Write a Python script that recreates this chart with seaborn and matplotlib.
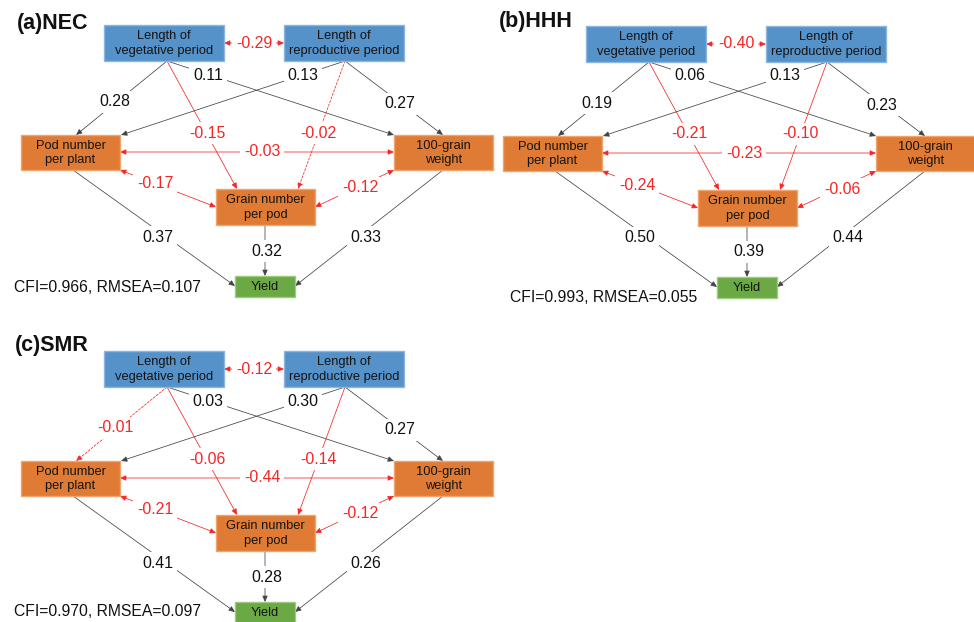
import matplotlib
matplotlib.use("Agg")
import matplotlib.pyplot as plt
from matplotlib.patches import Rectangle, FancyArrowPatch
import seaborn as sns

# ---- path-model results for the three regions ----
regions = ["(a)NEC", "(b)HHH", "(c)SMR"]
cfi = [0.966, 0.993, 0.970]
rmsea = [0.107, 0.055, 0.097]

# node labels
node_names = ["veg", "rep", "pod", "hgw", "gnp", "yld"]
node_labels = ["Length of\nvegetative period", "Length of\nreproductive period",
               "Pod number\nper plant", "100-grain\nweight",
               "Grain number\nper pod", "Yield"]
node_kind = ["period", "period", "trait", "trait", "trait", "yield"]

# paths: (source, target, two-headed?)
paths = [("veg", "pod", False), ("veg", "hgw", False), ("veg", "gnp", False),
         ("rep", "pod", False), ("rep", "hgw", False), ("rep", "gnp", False),
         ("veg", "rep", True), ("pod", "hgw", True), ("pod", "gnp", True),
         ("hgw", "gnp", True), ("pod", "yld", False), ("gnp", "yld", False),
         ("hgw", "yld", False)]

# standardized coefficients, same order as `paths`
coef_nec = [0.28, 0.11, -0.15, 0.13, 0.27, -0.02, -0.29, -0.03, -0.17, -0.12, 0.37, 0.32, 0.33]
coef_hhh = [0.19, 0.06, -0.21, 0.13, 0.23, -0.10, -0.40, -0.23, -0.24, -0.06, 0.50, 0.39, 0.44]
coef_smr = [-0.01, 0.03, -0.06, 0.30, 0.27, -0.14, -0.12, -0.44, -0.21, -0.12, 0.41, 0.28, 0.26]
coefs = [coef_nec, coef_hhh, coef_smr]

# non-significant paths (drawn dashed), index into `paths`
nonsig_nec = [5]
nonsig_hhh = []
nonsig_smr = [0]
nonsig = [nonsig_nec, nonsig_hhh, nonsig_smr]

# ---- layout (pixel space of one panel) ----
box = {"veg": (104, 25, 224, 61), "rep": (284, 25, 404, 61),
       "pod": (21, 135, 120, 170), "hgw": (394, 135, 493, 170),
       "gnp": (216, 189, 315, 225), "yld": (235, 276, 295, 297)}
ends = [((167, 61), (76, 135)), ((167, 61), (394, 135)), ((167, 61), (237, 189)),
        ((345, 61), (121, 135)), ((345, 61), (443, 135)), ((345, 61), (298, 189)),
        ((224, 43), (284, 43)), ((120, 152), (394, 152)), ((120, 170), (216, 207)),
        ((394, 170), (315, 207)), ((73, 170), (235, 286)), ((265, 225), (265, 276)),
        ((443, 170), (295, 286))]
label_at = [(115, 102), (208, 75), (207, 133), (303, 75), (400, 104), (318, 133),
            (254, 43), (262, 152), (155, 184), (360, 188), (158, 237), (267, 251),
            (366, 237)]
panel_offset = [(0, 0), (482, 1), (0, 326)]
title_at = [(17, 23), (499, 22), (15, 345)]
fit_at = [(14, 287), (510, 297), (14, 612)]

fill = {"period": "#5592CA", "trait": "#E07B35", "yield": "#6BA944"}
edge = {"period": "#8DB6DE", "trait": "#F2A46E", "yield": "#9CCB7F"}
RED = "#F52626"
DARK = "#444444"

sns.set_theme(style="white")
plt.rcParams["font.family"] = ["Liberation Sans", "DejaVu Sans"]

fig = plt.figure(figsize=(9.74, 6.22), dpi=100)
ax = fig.add_axes([0, 0, 1, 1])
ax.set_xlim(0, 974)
ax.set_ylim(622, 0)
ax.axis("off")

for p, name in enumerate(regions):
    dx, dy = panel_offset[p]

    # boxes
    for key, lab, kind in zip(node_names, node_labels, node_kind):
        x0, y0, x1, y1 = box[key]
        ax.add_patch(Rectangle((x0 + dx, y0 + dy), x1 - x0, y1 - y0,
                               facecolor=fill[kind], edgecolor=edge[kind],
                               lw=1.0, zorder=3))
        ax.text((x0 + x1) / 2 + dx, (y0 + y1) / 2 + dy + 0.5, lab, ha="center",
                va="center", fontsize=9.3, color="#141414", linespacing=1.3,
                zorder=4)

    # paths
    for i, ((src, dst, both), val) in enumerate(zip(paths, coefs[p])):
        (xa, ya), (xb, yb) = ends[i]
        col = RED if val < 0 else DARK
        style = "<|-|>" if both else "-|>"
        ls = (0, (3, 2)) if i in nonsig[p] else "-"
        arr = FancyArrowPatch((xa + dx, ya + dy), (xb + dx, yb + dy),
                              arrowstyle=f"{style},head_length=0.45,head_width=0.2",
                              mutation_scale=8, color=col, lw=0.55,
                              linestyle=ls, shrinkA=0, shrinkB=0, zorder=2)
        ax.add_patch(arr)
        lx, ly = label_at[i]
        ax.text(lx + dx, ly + dy, f"{val:.2f}", ha="center", va="center",
                fontsize=11.4, color=(RED if val < 0 else "#111111"), zorder=5,
                bbox=dict(boxstyle="square,pad=0.25", fc="white", ec="none"))

    tx, ty = title_at[p]
    ax.text(tx, ty, name, ha="left", va="center", fontsize=15.5,
            fontweight="bold", color="#111111")
    fx, fy = fit_at[p]
    ax.text(fx, fy, f"CFI={cfi[p]:.3f}, RMSEA={rmsea[p]:.3f}", ha="left",
            va="center", fontsize=11.3, color="#111111")

fig.savefig("out.png", dpi=100, facecolor="white")
